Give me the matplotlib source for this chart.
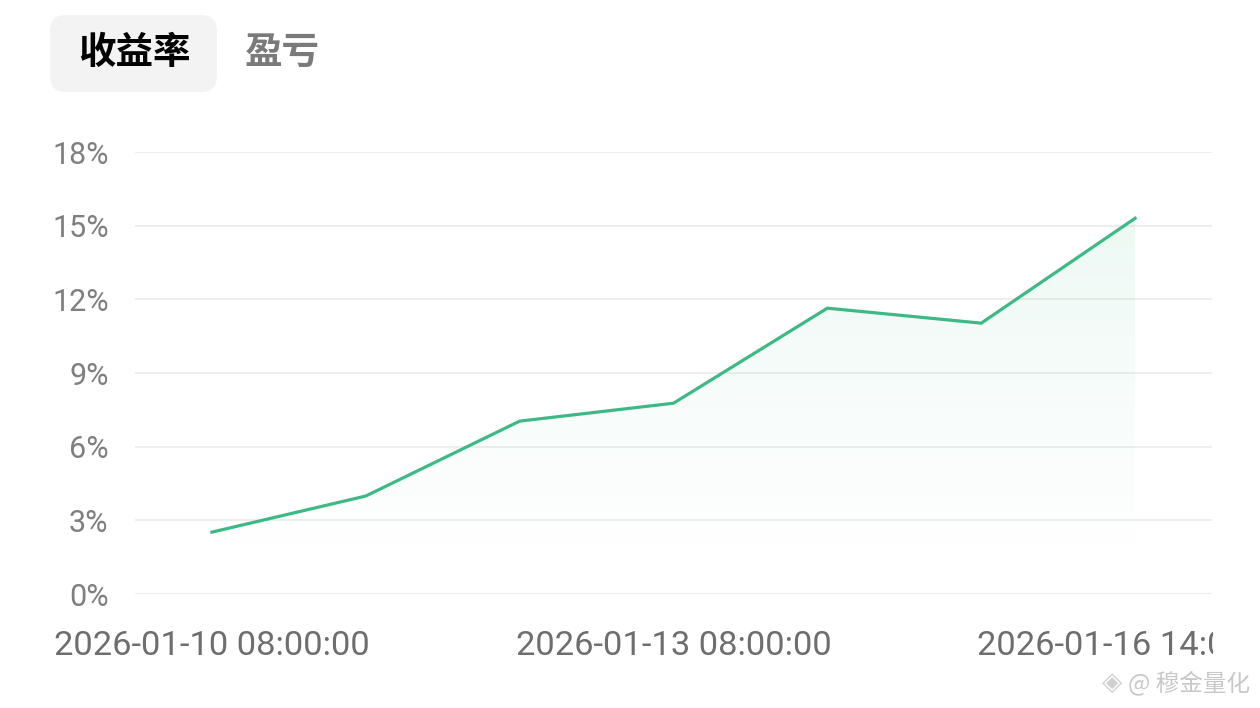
import matplotlib
matplotlib.use("Agg")
import matplotlib.pyplot as plt
import numpy as np
from matplotlib.patches import FancyBboxPatch, Rectangle, Polygon
from matplotlib.transforms import IdentityTransform
from matplotlib.colors import LinearSegmentedColormap

plt.rcParams['font.family'] = ['Roboto', 'Noto Sans CJK SC', 'DejaVu Sans']

# ---- data ----
categories = ["2026-01-10 08:00:00", "2026-01-11 08:00:00", "2026-01-12 08:00:00",
              "2026-01-13 08:00:00", "2026-01-14 08:00:00", "2026-01-15 08:00:00",
              "2026-01-16 14:00:00"]
returns_pct = [2.52, 3.99, 7.04, 7.77, 11.64, 11.03, 15.30]
y_ticks = [0, 3, 6, 9, 12, 15, 18]
y_tick_labels = ["0%", "3%", "6%", "9%", "12%", "15%", "18%"]
shown_label_idx = [0, 3, 6]
tabs = ["收益率", "盈亏"]
watermark = "@ 穆金量化"

LINE = "#3DB985"
W, H = 1260, 708
fig = plt.figure(figsize=(W / 100, H / 100), dpi=100)
fig.patch.set_facecolor("white")

ax = fig.add_axes([135 / W, (H - 594) / H, (1212 - 135) / W, (594 - 152) / H])
x = np.arange(len(categories))
ax.set_xlim(-0.5, len(categories) - 0.5)
ax.set_ylim(0, 18)

# gradient fill under line
ymax = max(returns_pct)
grad = np.linspace(0, 1, 256).reshape(-1, 1)
cmap = LinearSegmentedColormap.from_list(
    "g", [(0.24, 0.73, 0.52, 0.0), (0.24, 0.73, 0.52, 0.09)])
poly_pts = [(x[0], 0)] + list(zip(x, returns_pct)) + [(x[-1], 0)]
poly = Polygon(poly_pts, closed=True, transform=ax.transData, facecolor="none", edgecolor="none")
ax.add_patch(poly)
im = ax.imshow(grad, cmap=cmap, aspect="auto", origin="lower",
               extent=[x[0], x[-1], 1.5, ymax], zorder=1, interpolation="bilinear")
im.set_clip_path(poly)

ax.plot(x, returns_pct, color=LINE, lw=2.3, zorder=3, solid_joinstyle="miter")

# grid
ax.set_yticks(y_ticks)
ax.set_yticklabels(y_tick_labels)
for yt in y_ticks:
    ax.axhline(yt, color="#EBEBEB", lw=1.2, zorder=0)
for s in ax.spines.values():
    s.set_visible(False)
ax.tick_params(axis="y", length=0, pad=19, labelsize=22, labelcolor="#7F7F7F")
ax.set_xticks([x[i] for i in shown_label_idx])
ax.set_xticklabels([categories[i] for i in shown_label_idx])
ax.tick_params(axis="x", length=0, pad=26, labelsize=24.8, labelcolor="#6E6E6E")
ax.set_facecolor("none")

# clip right-most label
fig.patches.append(Rectangle((1213, 40), 60, 70, transform=IdentityTransform(),
                             facecolor="white", edgecolor="none", zorder=10))

# tabs
tab = FancyBboxPatch((50 + 16, H - 92 + 16), 167 - 32, 77 - 32,
                     boxstyle="round,pad=16", transform=IdentityTransform(),
                     facecolor="#F3F3F3", edgecolor="none", zorder=0)
fig.patches.append(tab)
fig.text(134 / W, (H - 52) / H, tabs[0], fontsize=27, color="#000000",
         ha="center", va="center", family=["Noto Sans CJK SC"], weight="bold")
fig.text(282 / W, (H - 52) / H, tabs[1], fontsize=27, color="#7A7A7A",
         ha="center", va="center", family=["Noto Sans CJK SC"], weight="bold")

# watermark
fig.text(1112 / W, (H - 683) / H, "◈", fontsize=19, color="#D0D0D0",
         ha="center", va="center", family=["DejaVu Sans"])
fig.text(1250 / W, (H - 683) / H, watermark, fontsize=17, color="#C8C8C8",
         ha="right", va="center", family=["Noto Sans CJK SC", "DejaVu Sans"])

fig.savefig("out.png", dpi=100)
